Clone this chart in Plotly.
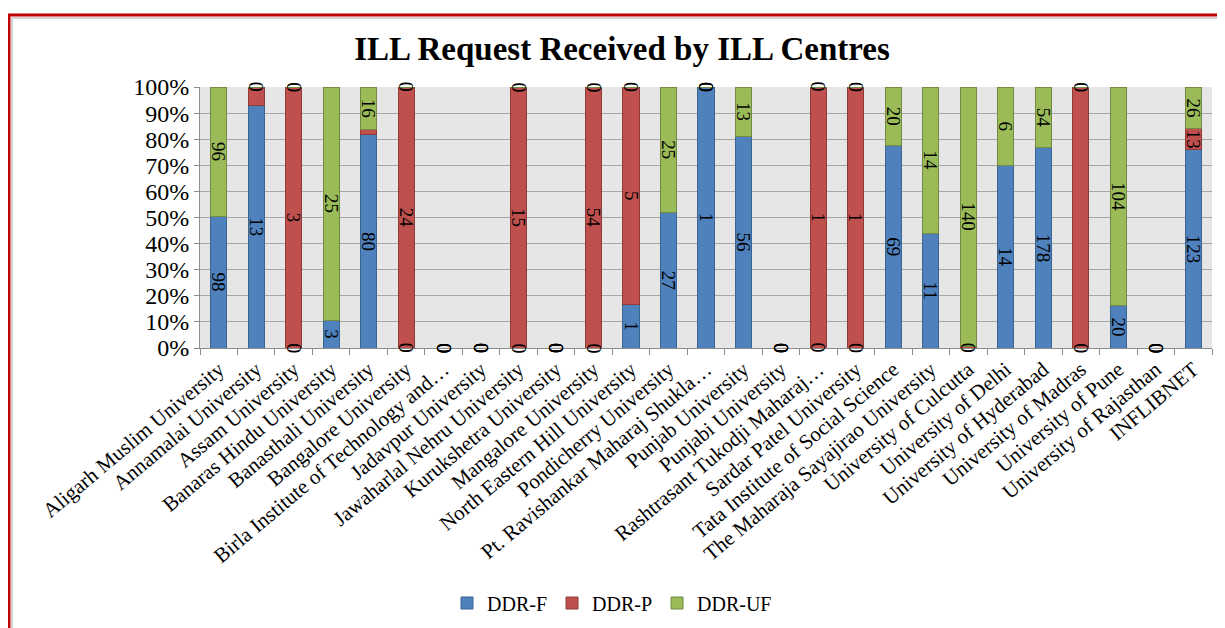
import plotly.graph_objects as go

centres = [
    "Aligarh Muslim University", "Annamalai University", "Assam University",
    "Banaras Hindu University", "Banasthali University", "Bangalore University",
    "Birla Institute of Technology and…", "Jadavpur University",
    "Jawaharlal Nehru University", "Kurukshetra University", "Mangalore University",
    "North Eastern Hill University", "Pondicherry University",
    "Pt. Ravishankar Maharaj Shukla…", "Punjab University", "Punjabi University",
    "Rashtrasant Tukodji Maharaj…", "Sardar Patel University",
    "Tata Institute of Social Science", "The Maharaja Sayajirao University",
    "University of Culcutta", "University of Delhi", "University of Hyderabad",
    "University of Madras", "University of Pune", "University of Rajasthan",
    "INFLIBNET",
]

# None = blank cell (no label), 0 = zero value (Excel draws a "0" label)
ddr_f = [98, 13, 0, 3, 80, 0, 0, 0, 0, 0, 0, 1, 27, 1, 56, 0, 0, 0, 69, 11, 0, 14, 178, 0, 20, 0, 123]
ddr_p = [None, 1, 3, None, 2, 24, 0, 0, 15, 0, 54, 5, None, 0, None, 0, 1, 1, None, None, 1, None, None, 1, None, 0, 13]
ddr_uf = [96, 0, 0, 25, 16, 0, 0, 0, 0, 0, 0, 0, 25, 0, 13, 0, 0, 0, 20, 14, 140, 6, 54, 0, 104, 0, 26]

series = [
    ("DDR-F", ddr_f, "#4F81BD", "#3A6593"),
    ("DDR-P", ddr_p, "#C0504D", "#8E3A38"),
    ("DDR-UF", ddr_uf, "#9BBB59", "#728A41"),
]
hidden_labels = {("DDR-P", "University of Madras")}

SERIF = "Liberation Serif, Times New Roman, serif"
W, H = 1225, 628
OFF = 8  # the page body adds an 8px margin around the figure
# plot area in screen pixels
PL, PR, PT, PB = 200, 1212, 87, 348
L, T = PL - OFF, PT - OFF
R, B = W - (PR - OFF), H - (PB - OFF)


def px_x(x):
    return (x - PL) / (PR - PL)


def px_y(y):
    return (PB - y) / (PB - PT)


totals = [sum(v or 0 for v in vals) for vals in zip(ddr_f, ddr_p, ddr_uf)]

fig = go.Figure()
for name, vals, color, edge in series:
    text = []
    for c, v, tot in zip(centres, vals, totals):
        if not v or (name, c) in hidden_labels or v / tot * 100 < 7.5:
            text.append("")
        else:
            text.append(str(v))
    fig.add_trace(go.Bar(
        x=centres, y=[v or 0 for v in vals], name=name,
        marker={"color": color, "line": {"color": edge, "width": 1}},
        text=text, textposition="inside", insidetextanchor="middle",
        textangle=90, insidetextfont={"family": SERIF, "size": 19, "color": "black"},
        hoverinfo="x+y+name",
    ))

# zero labels sit at the stack position of the empty segment
annotations = []
for i, c in enumerate(centres):
    cum = 0.0
    for name, vals, _, _ in series:
        v = vals[i]
        if v is None:
            continue
        pct = v / totals[i] * 100 if totals[i] else 0
        if v == 0:
            annotations.append(dict(
                x=c, y=cum, xref="x", yref="y", text="0", showarrow=False,
                textangle=90, font={"family": SERIF, "size": 20, "color": "black"},
            ))
        cum += pct

shapes = [
    dict(type="rect", xref="paper", yref="paper",
         x0=px_x(9), x1=px_x(1240), y0=px_y(15), y1=px_y(650),
         line={"color": "#C00000", "width": 3}),
    dict(type="rect", xref="paper", yref="paper",
         x0=px_x(12), x1=px_x(1240), y0=px_y(18), y1=px_y(650),
         line={"color": "#A6A6A6", "width": 1}),
]

fig.update_layout(
    width=W, height=H,
    barmode="stack", barnorm="percent", bargap=0.57,
    margin={"l": L, "r": R, "t": T, "b": B, "autoexpand": False},
    paper_bgcolor="white", plot_bgcolor="#E6E6E6",
    title={"text": "<b>ILL Request Received by ILL Centres</b>",
           "font": {"family": SERIF, "size": 33, "color": "black"},
           "x": (622 - OFF) / W, "xanchor": "center",
           "y": 1 - (48 - OFF) / H, "yanchor": "middle", "automargin": False},
    font={"family": SERIF, "color": "black"},
    legend={"orientation": "h", "x": px_x(612), "xanchor": "center",
            "y": px_y(603), "yanchor": "middle",
            "font": {"family": SERIF, "size": 20}, "itemwidth": 30,
            "traceorder": "normal"},
    uniformtext={"minsize": 19, "mode": "show"},
    annotations=annotations,
    shapes=shapes,
)
fig.update_xaxes(
    tickangle=-40, tickfont={"family": SERIF, "size": 21}, automargin=False,
    showline=True, linecolor="#8C8C8C", ticks="outside", tickson="boundaries",
    ticklen=6, tickcolor="#8C8C8C", showgrid=False,
)
fig.update_yaxes(
    range=[0, 100], dtick=10, ticksuffix="%", tickfont={"family": SERIF, "size": 24},
    automargin=False,
    showline=True, linecolor="#8C8C8C", gridcolor="#A6A6A6", gridwidth=1,
    ticks="outside", ticklen=5, tickcolor="#8C8C8C", zeroline=False,
)

fig.write_html("out.html")
